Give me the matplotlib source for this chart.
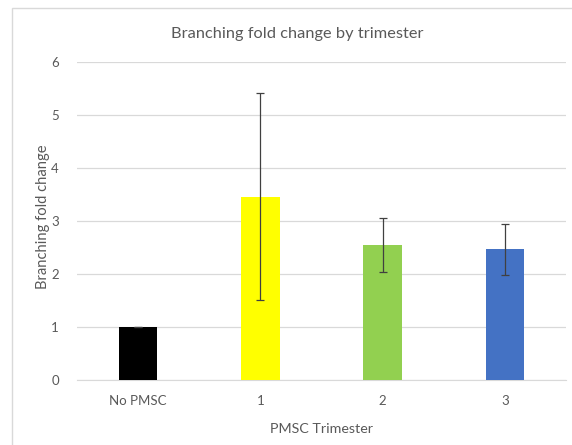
import matplotlib
matplotlib.use("Agg")
import matplotlib.pyplot as plt
from matplotlib.patches import Rectangle

categories = ["No PMSC", "1", "2", "3"]
values = [1.0, 3.46, 2.54, 2.47]
errors = [0.0, 1.95, 0.51, 0.48]
colors = ["#000000", "#FFFF00", "#92D050", "#4472C4"]

plt.rcParams['font.family'] = ['Lato', 'DejaVu Sans']
text_color = "#595959"

fig = plt.figure(figsize=(5.72, 4.45), dpi=100)
ax = fig.add_axes([77/572, 1 - 380/445, 489/572, 318/445])

x = list(range(len(categories)))
ax.bar(x, values, width=0.315, color=colors, zorder=3)
ax.errorbar(x, values, yerr=errors, fmt='none', ecolor="#404040", elinewidth=0.9,
            capsize=3, capthick=0.9, zorder=4)

ax.set_ylim(0, 6)
ax.set_xlim(-0.5, len(categories) - 0.5)
ax.set_yticks(range(0, 7))
ax.set_xticks(x)
ax.set_xticklabels(categories)
ax.yaxis.grid(True, color="#D9D9D9", linewidth=0.9, zorder=0)
for s in ax.spines.values():
    s.set_visible(False)
ax.spines['bottom'].set_visible(True)
ax.spines['bottom'].set_color("#D9D9D9")
ax.tick_params(axis='both', length=0, colors=text_color, labelsize=9.5)
ax.tick_params(axis='x', pad=11)
ax.tick_params(axis='y', pad=13)

fig.text(321/572, 1 - 429/445, "PMSC Trimester", ha='center', va='center',
         color=text_color, fontsize=10.3)
fig.text(43/572, 1 - 216.5/445, "Branching fold change", rotation=90, ha='center', va='center',
         color=text_color, fontsize=10.6)
fig.text(297.5/572, 1 - 34/445, "Branching fold change by trimester", ha='center', va='center',
         color=text_color, fontsize=11.8)

fig.patches.append(Rectangle((12/572, -0.1), 1.2, 1.1 - 8/445, transform=fig.transFigure,
                             fill=False, edgecolor="#D9D9D9", linewidth=1))

fig.savefig("out.png", dpi=100, facecolor="white")
